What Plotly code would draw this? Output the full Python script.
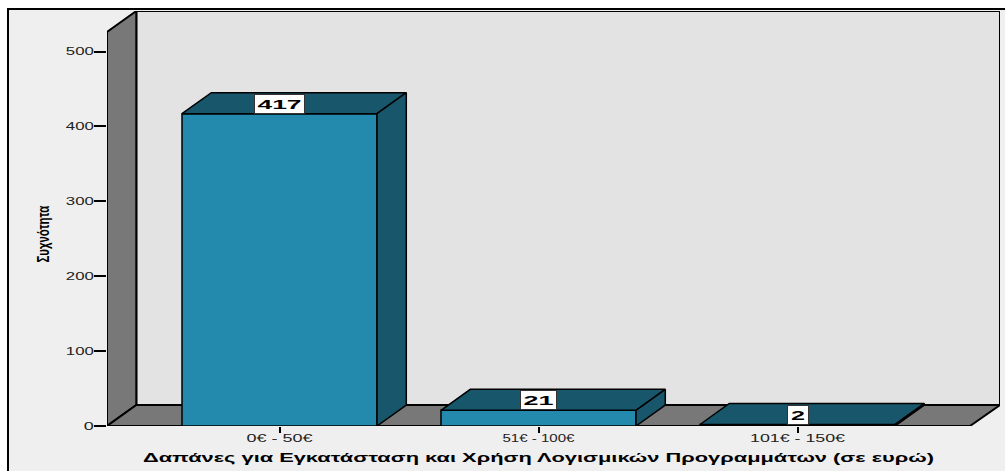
import plotly.graph_objects as go

categories = ["0€ - 50€", "51€ - 100€", "101€ - 150€"]
counts = [417, 21, 2]
y_ticks = [0, 100, 200, 300, 400, 500]
x_title = "Δαπάνες για Εγκατάσταση και Χρήση Λογισμικών Προγραμμάτων (σε ευρώ)"
y_title = "Συχνότητα"

W, H = 1005, 471
L, R, T, B = 107, 1000, 11, 426
STEP = 259.0
UNIT = 0.749
x_lo = -(279.5 - L) / STEP
x_hi = x_lo + (R - L) / STEP
y_hi = (B - T) / UNIT
DX = 29.3 / STEP
DY = 21 / UNIT
BAR_W = 195 / STEP
x_front = x_lo + (970 - L) / STEP
y_front = y_hi - DY

FACE = "#2389AD"
DARK = "#17566B"
WALL = "#787878"
BACK = "#E3E3E3"
PANEL = "#EFEFEF"


def poly(xs, ys, fill, width=2):
    path = "M " + " L ".join(f"{a},{b}" for a, b in zip(xs, ys)) + " Z"
    return dict(type="path", path=path, xref="x", yref="y", layer="below",
                fillcolor=fill, line=dict(color="black", width=width))


fig = go.Figure()

shapes = [
    dict(type="rect", xref="paper", yref="paper", layer="below",
         x0=(8 - L) / (R - L), x1=1.02, y0=-0.2, y1=(B - 9) / (B - T),
         fillcolor=PANEL, line=dict(color="black", width=2)),
    poly([x_lo + DX, x_hi, x_hi, x_lo + DX], [DY, DY, y_hi, y_hi], BACK),
    poly([x_lo, x_lo + DX, x_lo + DX, x_lo], [0, DY, y_hi, y_front], WALL),
    poly([x_lo, x_lo + DX, x_hi, x_front], [0, DY, DY, 0], WALL),
]

fig.add_bar(x=list(range(len(categories))), y=counts, width=BAR_W,
            marker=dict(color=FACE, line=dict(color="black", width=1.5)),
            hoverinfo="skip")

for i, v in enumerate(counts):
    a, b = i - BAR_W / 2, i + BAR_W / 2
    fig.add_scatter(x=[a, a + DX, b + DX, b, a], y=[v, v + DY, v + DY, v, v],
                    mode="lines", fill="toself", fillcolor=DARK,
                    line=dict(color="black", width=1.5), hoverinfo="skip")
    fig.add_scatter(x=[b, b + DX, b + DX, b, b], y=[0, DY, v + DY, v, 0],
                    mode="lines", fill="toself", fillcolor=DARK,
                    line=dict(color="black", width=1.5), hoverinfo="skip")
    fig.add_annotation(x=i, y=v, text=f"<b>{v}</b>", showarrow=False,
                       yanchor="bottom", xanchor="center",
                       width={417: 49, 21: 35, 2: 20}[v], height=18,
                       bgcolor="white", bordercolor="#333333", borderwidth=1,
                       borderpad=0, align="center",
                       font=dict(family="Liberation Sans", size=13, color="black"))

fig.add_annotation(xref="paper", yref="paper", showarrow=False,
                   x=(538.5 - L) / (R - L), y=(B - 458) / (B - T),
                   xanchor="center", yanchor="middle", text=f"<b>{x_title}</b>",
                   font=dict(family="Liberation Sans", size=12, color="black"))
fig.add_annotation(xref="paper", yref="paper", showarrow=False, textangle=-90,
                   x=(43.5 - L) / (R - L), y=(B - 233.5) / (B - T),
                   xanchor="center", yanchor="middle", text=f"<b>{y_title}</b>",
                   font=dict(family="Liberation Sans", size=16, color="black"))

fig.update_layout(
    width=W, height=H, autosize=False, showlegend=False,
    margin=dict(l=L, r=W - R, t=T, b=H - B, pad=0),
    paper_bgcolor="white", plot_bgcolor="rgba(0,0,0,0)",
    shapes=shapes,
    xaxis=dict(range=[x_lo, x_hi], tickmode="array",
               tickvals=list(range(len(categories))), ticktext=categories,
               ticks="outside", ticklen=6, tickwidth=1.5, tickcolor="black",
               ticklabelstandoff=-4,
               showgrid=False, zeroline=False, showline=False,
               tickfont=dict(family="Liberation Sans", size=11, color="#222222")),
    yaxis=dict(range=[0, y_hi], tickmode="array", tickvals=y_ticks,
               ticks="outside", ticklen=12, tickwidth=1.5, tickcolor="black",
               ticklabelstandoff=-2,
               showgrid=False, zeroline=False, showline=False,
               tickfont=dict(family="Liberation Sans", size=11, color="#222222")),
)

# The source picture was stretched horizontally: widen the text to its measured length.
post = """
document.body.style.margin = '0';
var gd = document.querySelector('.plotly-graph-div');
function fit(sel, px) {
  gd.querySelectorAll(sel).forEach(function (t, i) {
    var v = Array.isArray(px) ? px[i] : px;
    if (v) { t.setAttribute('textLength', v); t.setAttribute('lengthAdjust', 'spacingAndGlyphs'); }
  });
}
fit('.xtick text', [66, 72, 95]);
fit('.ytick text', [10, 28, 28, 28, 28, 28]);
fit('.annotation-text', [44, 30, 14, 791, 57]);
"""
fig.write_html("out.html", post_script=post, config=dict(displayModeBar=False))
